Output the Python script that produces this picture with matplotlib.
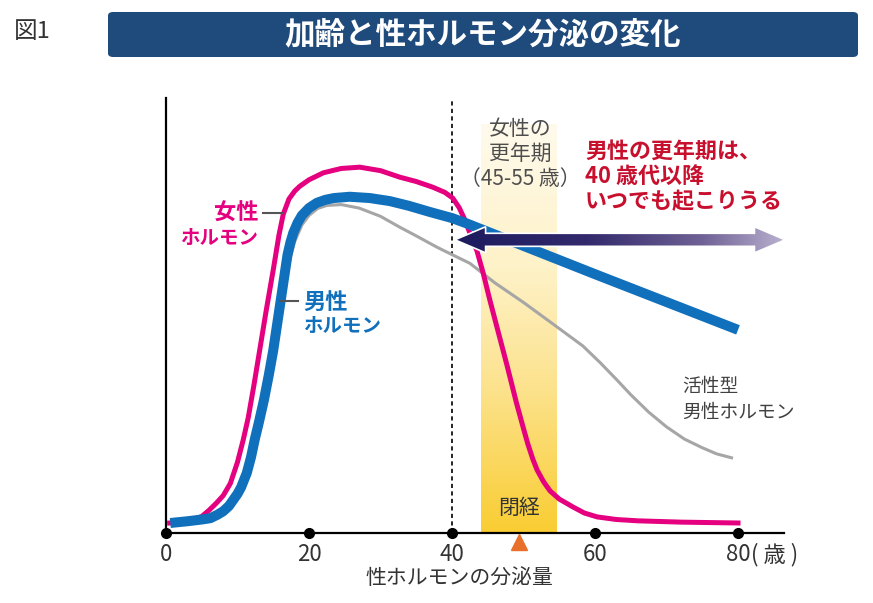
import numpy as np
import matplotlib
matplotlib.use("Agg")
import matplotlib.pyplot as plt
from matplotlib.patches import FancyBboxPatch, Polygon

plt.rcParams['font.family'] = ['Noto Sans CJK JP', 'DejaVu Sans']

# データ
blue_age = [0.6, 3, 5, 6.2, 7.2, 8, 8.8, 9.4, 10, 10.5, 11.3, 11.9, 12.4, 13, 13.7, 14.4,
            15, 15.5, 16, 16.5, 17, 17.4, 17.8, 18.4, 19, 20, 21.1, 22.3, 23.5, 25.7,
            28.5, 31.3, 34, 36.9, 40, 42, 50, 60, 70, 80]
blue_val = [2.3, 2.7, 3.1, 3.4, 4.2, 5, 6.2, 7.6, 9, 10.5, 13.8, 17.5, 21.4, 25.5, 30.6, 36.5,
            42, 47.5, 53, 58.5, 64, 66.8, 69, 71.3, 73, 74.7, 75.9, 76.6, 77, 77.3,
            77, 76.3, 75.2, 73.8, 72.4, 71.2, 66, 59.5, 53.1, 46.7]

pink_age = [0.5, 3, 5, 6, 7, 8, 9, 10, 10.8, 11.5, 12.3, 13, 14, 15, 15.8, 16.4, 17.2, 18,
            18.7, 20, 22, 24.5, 27.1, 30, 32.7, 35, 37.3, 39, 40.1, 41, 41.8, 42.6, 43.5,
            44.4, 45.3, 46.5, 47.7, 49, 50, 50.6, 51.3, 51.9, 52.8, 53.7, 55, 56.9, 58.5,
            60.3, 63, 66, 72, 80]
pink_val = [2.3, 2.6, 3.8, 5.2, 6.8, 8.6, 11.4, 16.3, 21.4, 26.5, 34, 41, 51, 60.5, 68.5, 73.3,
            76.8, 78.6, 79.7, 81.2, 82.8, 83.8, 84.1, 83.3, 81.8, 80.8, 79.5, 78.3, 77, 74.8,
            72, 68.5, 64.8, 59.5, 53.5, 46, 38.5, 30, 24, 20.5, 17, 14.5, 11.8, 9.7, 7.8, 6.0,
            4.6, 3.7, 3.1, 2.8, 2.5, 2.3]

gray_age = [15, 16, 17, 18, 19, 20, 21.2, 22.5, 24.5, 27, 30, 32.7, 35, 37.9, 40, 42.5, 46,
            50, 54, 58.3, 60.7, 63, 65, 67.5, 70, 72.5, 75, 77, 79.3]
gray_val = [40, 52, 61, 67, 70.8, 73, 74.6, 75.3, 75.5, 74.7, 72.8, 70.3, 68.3, 65.7, 64, 62,
            57.5, 53, 48.2, 43, 39.2, 35.3, 31.8, 27.8, 24.4, 21.6, 19.6, 18.2, 17.2]

ticks = [0, 20, 40, 60, 80]
tick_labels = ['0', '20', '40', '60', '80']
menopause_range = [44, 54.6]   # 女性の更年期の帯
menopause_age = 49.4           # 閉経
arrow_range = [40.4, 86.6]     # 男性の更年期の矢印
arrow_level = 67.4

W, H = 873, 603
def fx(x):
    return x / W
def fy(y):
    return 1 - y / H

fig = plt.figure(figsize=(8.73, 6.03), dpi=100)
ax = fig.add_axes([fx(166), fy(533), 88 * 7.15 / W, 435 / H])
ax.set_xlim(0, 88)
ax.set_ylim(0, 100)

# 女性の更年期（黄色のグラデーション）
anchors = np.array([[255, 250, 236], [254, 242, 200], [252, 226, 140], [249, 205, 50]]) / 255
pos = np.array([0, 0.35, 0.65, 1.0])
t = np.linspace(0, 1, 200)
grad = np.stack([np.interp(t, pos, anchors[:, k]) for k in range(3)], axis=1)[:, None, :]
ax.imshow(grad, extent=[menopause_range[0], menopause_range[1], 0, 94], aspect='auto',
          zorder=1, origin='upper')

# 40歳の点線
ax.plot([40, 40], [0, 100], color='black', lw=1.2, ls=(0, (2.5, 2)), zorder=2)

# 曲線
ax.plot(gray_age, gray_val, color='#a6a6a6', lw=2.2, zorder=3, solid_capstyle='butt',
        solid_joinstyle='round')
ax.plot(pink_age, pink_val, color='#e4007f', lw=3.6, zorder=4, solid_joinstyle='round')
ax.plot(blue_age, blue_val, color='#1170bc', lw=7.2, zorder=5, solid_joinstyle='round',
        solid_capstyle='butt')

# 引き出し線
ax.plot([13.6, 16.2], [73.6, 73.6], color='#555555', lw=1.5, zorder=6)
ax.plot([15.9, 18.5], [53.3, 53.3], color='#555555', lw=1.5, zorder=6)

# グラデーションの両矢印
x0, x1 = arrow_range
hl, hh, sh = 4.3, 3.0, 1.5
pts = [(x0, arrow_level), (x0 + hl, arrow_level + hh), (x0 + hl, arrow_level + sh),
       (x1 - hl, arrow_level + sh), (x1 - hl, arrow_level + hh), (x1, arrow_level),
       (x1 - hl, arrow_level - hh), (x1 - hl, arrow_level - sh), (x0 + hl, arrow_level - sh),
       (x0 + hl, arrow_level - hh)]
arr_anchors = np.array([[28, 27, 94], [50, 42, 108], [112, 98, 150], [186, 178, 208]]) / 255
arr_pos = np.array([0, 0.4, 0.75, 1.0])
ag = np.stack([np.interp(t, arr_pos, arr_anchors[:, k]) for k in range(3)], axis=1)[None, :, :]
poly = Polygon(pts, closed=True, facecolor='none', edgecolor='white', lw=1.2, zorder=8)
ax.add_patch(poly)
im = ax.imshow(ag, extent=[x0, x1, arrow_level - hh, arrow_level + hh], aspect='auto', zorder=7)
im.set_clip_path(poly)

# 軸
for s in ['top', 'right']:
    ax.spines[s].set_visible(False)
ax.spines['left'].set_linewidth(1.6)
ax.spines['bottom'].set_linewidth(1.6)
ax.spines['bottom'].set_bounds(0, 86.4)
ax.set_yticks([])
ax.set_xticks(ticks, tick_labels)
ax.tick_params(axis='x', length=0, pad=7, labelsize=16, labelcolor='#333333')
ax.plot(ticks, [0] * len(ticks), 'o', color='black', ms=7, clip_on=False, zorder=9)
ax.plot([menopause_age], [-2.1], marker='^', color='#e8702a', ms=11, clip_on=False, zorder=9)
ax.annotate('( 歳 )', xy=(80, 0), xytext=(9.5, -7), textcoords='offset points',
            ha='left', va='top', fontsize=16, color='#333333')

ax.text(41, -10.3, '性ホルモンの分泌量', ha='center', va='center', fontsize=15,
        color='#333333', clip_on=False)

# 文字
ax.text(12.9, 73.6, '女性', ha='right', va='center', fontsize=16, fontweight='bold', color='#e4007f')
ax.text(12.9, 67.8, 'ホルモン', ha='right', va='center', fontsize=14, fontweight='bold', color='#e4007f')
ax.text(19.2, 53.1, '男性', ha='left', va='center', fontsize=16, fontweight='bold', color='#1170bc')
ax.text(19.2, 47.4, 'ホルモン', ha='left', va='center', fontsize=14, fontweight='bold', color='#1170bc')

ax.text(49.6, 95.3, '女性の\n更年期\n（45-55 歳）', ha='center', va='top', fontsize=15,
        color='#4d4d4d', linespacing=1.15)
ax.text(58.6, 90.3, '男性の更年期は、\n40 歳代以降\nいつでも起こりうる', ha='left', va='top',
        fontsize=15.8, fontweight='bold', color='#c8102e', linespacing=1.1)
ax.text(72.2, 30.6, '活性型\n男性ホルモン', ha='left', va='center', fontsize=13.5,
        color='#404040', linespacing=1.3)
ax.text(menopause_age, 5.7, '閉経', ha='center', va='center', fontsize=15, color='#333333', zorder=6)

# タイトル
box = FancyBboxPatch((fx(108), fy(57)), fx(858) - fx(108), fy(12) - fy(57),
                     boxstyle='round,pad=0,rounding_size=0.006', transform=fig.transFigure,
                     facecolor='#1f4a7c', edgecolor='none')
fig.add_artist(box)
fig.text(fx(483), fy(35), '加齢と性ホルモン分泌の変化', ha='center', va='center',
         fontsize=22, fontweight='bold', color='white')
fig.text(fx(14), fy(31), '図1', ha='left', va='center', fontsize=17, color='#333333')

fig.savefig('out.png', dpi=100)
